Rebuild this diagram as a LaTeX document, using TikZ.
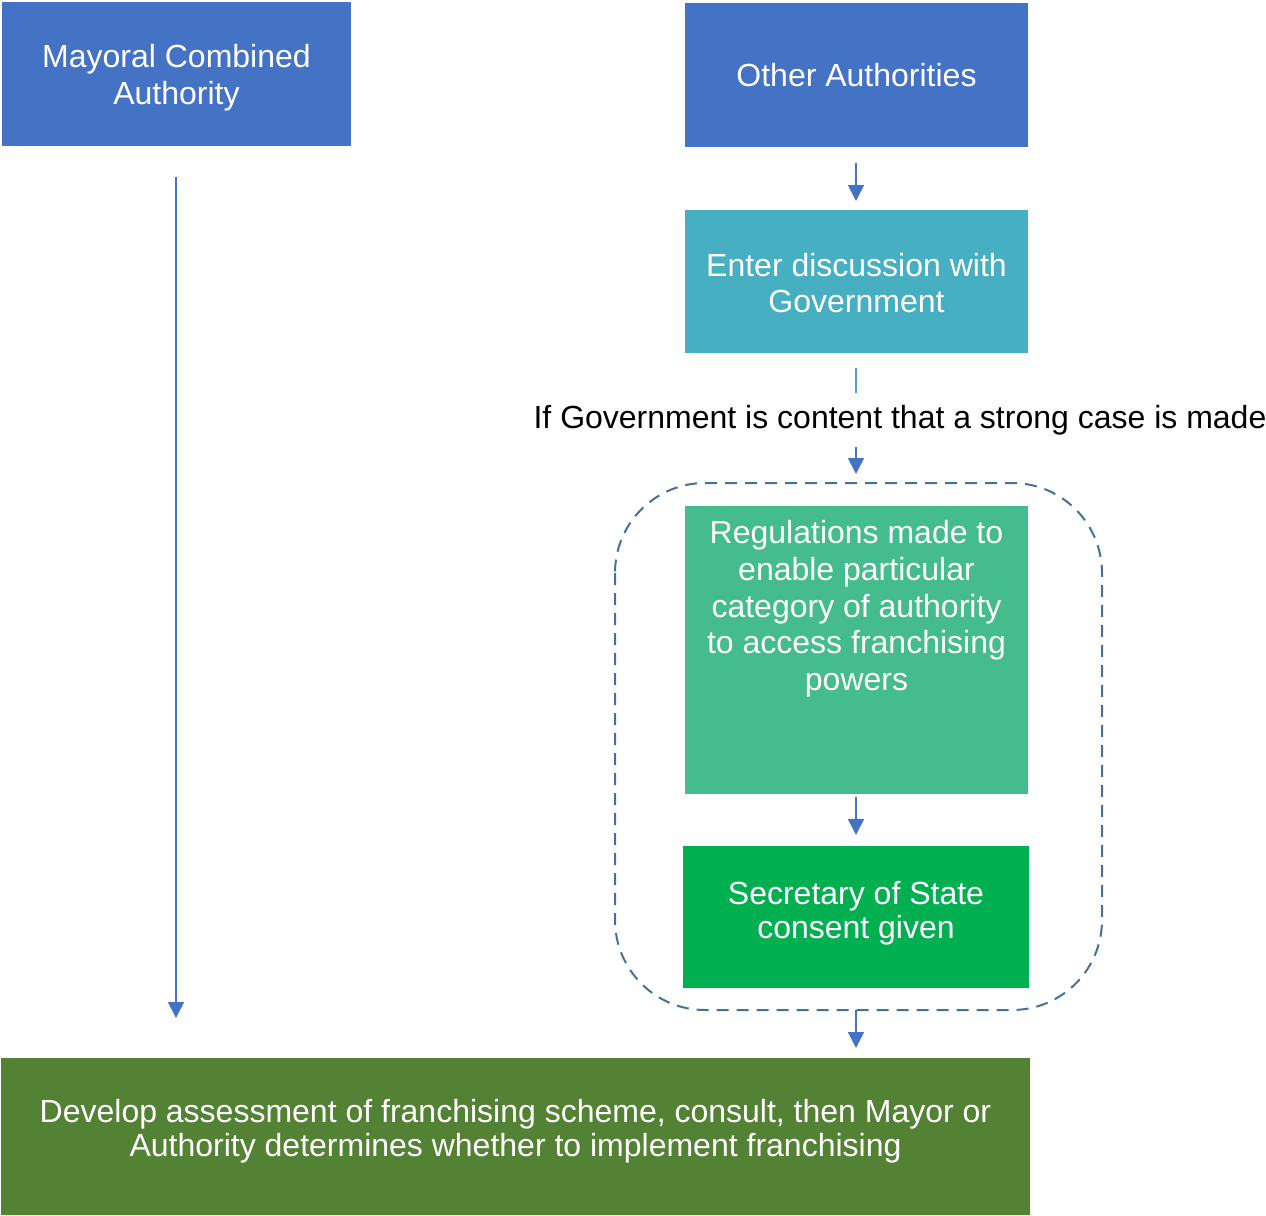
\documentclass[tikz,border=0pt]{standalone}
\usepackage{fontspec}
\setmainfont{Liberation Sans}
\usetikzlibrary{arrows.meta}
\definecolor{blueA}{HTML}{4472C4}
\definecolor{tealA}{HTML}{46AFC2}
\definecolor{mintA}{HTML}{45BC8D}
\definecolor{greenA}{HTML}{00B050}
\definecolor{oliveA}{HTML}{548235}
\definecolor{dashA}{HTML}{41719C}
\definecolor{lineA}{HTML}{5B9BD5}
\tikzset{
  box/.style={draw=white, line width=0.6pt, inner sep=0pt, text=white, align=center,
    font=\fontsize{16}{18.4}\selectfont},
  txt/.style={inner sep=0pt, align=center, font=\fontsize{16}{18.4}\selectfont},
  txtb/.style={inner sep=0pt, align=center, text=white, font=\fontsize{16}{17}\selectfont},
  arr/.style={draw=blueA, line width=0.8pt, -{Triangle[width=8pt,length=8pt]}},
}
\begin{document}
\begin{tikzpicture}[x=0.5pt,y=-0.5pt]
\useasboundingbox (0,0) rectangle (1266,1216);
% boxes
\node[box, fill=blueA, minimum width=175.5pt, minimum height=73pt] (mca) at (176.5,74) {};
\node[txt, text=white] (mcatxt) at (176.5,78) {Mayoral Combined\\Authority};
\node[box, fill=blueA, minimum width=172.5pt, minimum height=73pt] (oth) at (856.5,75) {Other Authorities};
\node[box, fill=tealA, minimum width=172.5pt, minimum height=72.5pt] (gov) at (856.5,281.5) {};
\node[txt, text=white] (govtxt) at (856.5,283) {Enter discussion with\\Government};
\node[txt] (cond) at (900,420) {If Government is content that a strong case is made};
\node[box, fill=mintA, minimum width=172.5pt, minimum height=145pt] (reg) at (856.5,650) {};
\node[txt, text=white, anchor=north] (regtxt) at (856.5,520) {Regulations made to\\enable particular\\category of authority\\to access franchising\\powers};
\node[box, fill=greenA, minimum width=174pt, minimum height=72pt] (sos) at (856,917) {};
\node[txtb] (sostxt) at (856,913) {Secretary of State\\consent given};
\node[box, fill=oliveA, minimum width=515.5pt, minimum height=79.5pt] (dev) at (515.5,1136.5) {};
\node[txtb] (devtxt) at (515.5,1131) {Develop assessment of franchising scheme, consult, then Mayor or\\Authority determines whether to implement franchising};
% dashed group
\draw[dashA, line width=1pt, dash pattern=on 6pt off 4pt, rounded corners=45pt]
  (615,483) rectangle (1102,1010);
\coordinate (grpB) at (856,1010);
% connectors
\coordinate (mcaS) at (176,177);
\coordinate (mcaE) at (176,1018);
\draw[arr] (mcaS) -- (mcaE);
\coordinate (othS) at (856,163);
\draw[arr] (othS) -- (856,201);
\coordinate (govS) at (856,368);
\draw[lineA, line width=0.6pt] (govS) -- (856,393);
\coordinate (condS) at (856,447);
\draw[arr] (condS) -- (856,474);
\coordinate (regS) at (856,797);
\draw[arr] (regS) -- (856,835);
\draw[arr] (grpB) -- (856,1048);
\end{tikzpicture}
\end{document}
